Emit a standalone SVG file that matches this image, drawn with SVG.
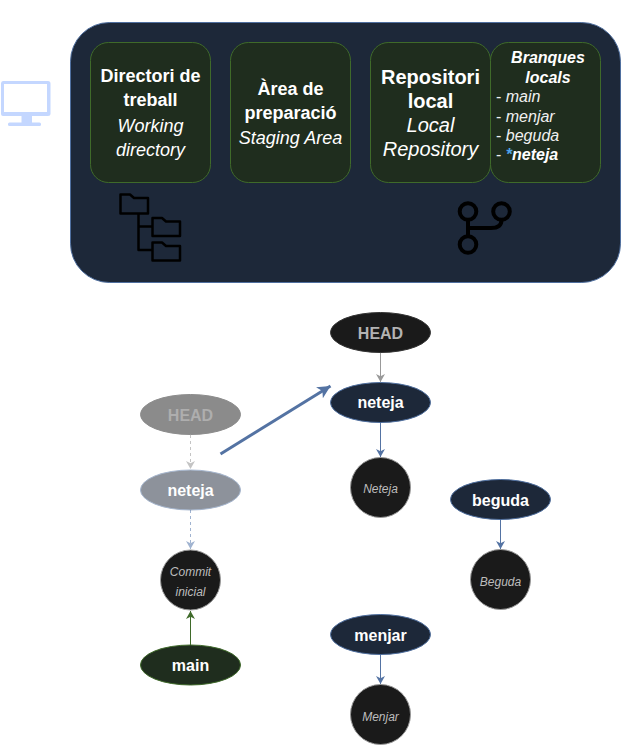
<svg xmlns="http://www.w3.org/2000/svg" width="621" height="745" viewBox="0 0 621 745">
<style>
text{font-family:"Liberation Sans",Arial,sans-serif;text-anchor:middle;fill:#fff}
.box{fill:#1f2d1e;stroke:#3f6a2a;stroke-width:1}
.t{font-size:18px}.b{font-weight:bold}.i{font-style:italic}
.big{font-size:20px}
.h{font-size:16px;font-weight:bold;font-style:italic}
.l{font-size:16px;text-anchor:start;fill:#f0f0f0}
.br{fill:#1d2839;stroke:#4f6f9f;stroke-width:1}
.blk{fill:#1a1a1a;stroke:#999;stroke-width:1}
.en{font-size:16px;font-weight:bold}
.c{font-size:12px;font-style:italic;fill:#bdbdbd}
.ic{fill:none;stroke:#000;stroke-width:2.500;stroke-linejoin:round}
.bl{stroke:#5473a3;fill:none;stroke-width:1}
</style>
<defs>
<marker id="aBlue" markerUnits="userSpaceOnUse" markerWidth="10" markerHeight="10" refX="8" refY="4.500" orient="auto"><path d="M0 0L8 4.500L0 9L2.200 4.500Z" fill="#5473a3"/></marker>
<marker id="aGrey" markerUnits="userSpaceOnUse" markerWidth="10" markerHeight="10" refX="8" refY="4.500" orient="auto"><path d="M0 0L8 4.500L0 9L2.200 4.500Z" fill="#999"/></marker>
<marker id="aGreen" markerUnits="userSpaceOnUse" markerWidth="10" markerHeight="10" refX="8" refY="4.500" orient="auto"><path d="M0 0L8 4.500L0 9L2.200 4.500Z" fill="#3f6a2a"/></marker>
<marker id="aLG" markerUnits="userSpaceOnUse" markerWidth="10" markerHeight="10" refX="8" refY="4.500" orient="auto"><path d="M0 0L8 4.500L0 9L2.200 4.500Z" fill="#c4c4c4"/></marker>
<marker id="aLB" markerUnits="userSpaceOnUse" markerWidth="10" markerHeight="10" refX="8" refY="4.500" orient="auto"><path d="M0 0L8 4.500L0 9L2.200 4.500Z" fill="#a0b3d0"/></marker>
<marker id="aBig" markerUnits="userSpaceOnUse" markerWidth="16" markerHeight="14" refX="13" refY="6.500" orient="auto"><path d="M0 0L13 6.500L0 13L3.500 6.500Z" fill="#5473a3"/></marker>
</defs>

<g id="computer-icon" fill="#c4d7ff">
<path fill-rule="evenodd" d="M3 81H48Q50.500 81 50.500 83.500V114Q50.500 116 48 116H3Q1 116 1 114V83.500Q1 81 3 81ZM4 84V112H47V84Z"/>
<path d="M21.500 116H32V123H21.500Z"/><rect x="8" y="122.500" width="33" height="3.500" rx="1.500"/>
</g>

<g id="panel"><rect x="70.500" y="22.500" width="550" height="260" rx="39" fill="#1d2839" stroke="#4f6f9f"/></g>

<g id="working">
<rect class="box" x="90.500" y="42.500" width="120" height="140" rx="18"/>
<text class="t b" x="150.500" y="82">Directori de</text><text class="t b" x="150.500" y="106">treball</text>
<text class="t i" x="150.500" y="132">Working</text><text class="t i" x="150.500" y="156">directory</text>
</g>
<g id="staging">
<rect class="box" x="230.500" y="42.500" width="120" height="140" rx="18"/>
<text class="t b" x="290.500" y="95">Àrea de</text><text class="t b" x="290.500" y="119">preparació</text>
<text class="t i" x="290.500" y="144">Staging Area</text>
</g>
<g id="repository">
<rect class="box" x="490.500" y="42.500" width="110" height="140" rx="18"/>
<path class="box" d="M388 42.500H473"/>
<rect class="box" x="370.500" y="42.500" width="120" height="140" rx="18"/>
<text class="big b" x="430.500" y="84">Repositori</text><text class="big b" x="430.500" y="108">local</text>
<text class="big i" x="430.500" y="132">Local</text><text class="big i" x="430.500" y="156">Repository</text>
</g>
<g id="branches">
<text class="h" x="548" y="63">Branques</text>
<text class="h" x="548" y="82.500">locals</text>
<text class="l" x="496" y="102">- <tspan font-style="italic">main</tspan></text>
<text class="l" x="496" y="121.500">- <tspan font-style="italic">menjar</tspan></text>
<text class="l" x="496" y="141">- <tspan font-style="italic">beguda</tspan></text>
<text class="l" x="496" y="160">- <tspan fill="#4ea3e8" font-weight="bold" font-style="italic">*</tspan><tspan fill="#fff" font-weight="bold" font-style="italic">neteja</tspan></text>
</g>

<g id="folder-icon" class="ic">
<path d="M120.500 213.500V194.500H130L134 198H148V213.500Z"/>
<path d="M152.500 236V218H162L166 221.500H180V236Z"/>
<path d="M152.500 260.500V242.500H162L166 246H180V260.500Z"/>
<path d="M138.500 213.500V250H152.500M138.500 226.500H152.500"/>
</g>
<g id="branch-icon" fill="none" stroke="#000" stroke-width="4">
<circle cx="468" cy="211.500" r="8.300"/><circle cx="501.500" cy="211.500" r="8.300"/><circle cx="468" cy="244.500" r="8.300"/>
<path d="M468 220V236M468 228H491Q501.500 228 501.500 220"/>
</g>

<g id="connectors" fill="none">
<path d="M190.500 435V469" stroke="#c4c4c4" stroke-dasharray="3 3" marker-end="url(#aLG)"/>
<path d="M190.500 510V549" stroke="#a0b3d0" stroke-dasharray="3 3" marker-end="url(#aLB)"/>
<path d="M190.500 645V611" stroke="#3f6a2a" marker-end="url(#aGreen)"/>
<path d="M220.500 454L330.500 386" stroke="#5473a3" stroke-width="3" marker-end="url(#aBig)"/>
<path d="M380.500 352V382" stroke="#999" marker-end="url(#aGrey)"/>
<path class="bl" d="M380.500 422V457" marker-end="url(#aBlue)"/>
<path class="bl" d="M500.500 519V549" marker-end="url(#aBlue)"/>
<path class="bl" d="M380.500 654V684" marker-end="url(#aBlue)"/>
</g>

<g id="head-old" opacity="0.5"><ellipse cx="190.500" cy="414.500" rx="50" ry="20" fill="#1a1a1a" stroke="#1a1a1a"/><text class="en" x="190.500" y="421" style="fill:#5f5f5f">HEAD</text></g>
<g id="neteja-old" opacity="0.5"><ellipse class="br" cx="190.500" cy="490" rx="50" ry="20"/><text class="en" x="190.500" y="496" style="fill:#fff">neteja</text></g>
<g id="commit-inicial"><circle class="blk" cx="190.500" cy="580" r="30"/><text class="c" x="190.500" y="576">Commit</text><text class="c" x="190.500" y="596">inicial</text></g>
<g id="main"><ellipse cx="190.500" cy="665" rx="50" ry="20" fill="#1f2d1e" stroke="#3f6a2a"/><text class="en" x="190.500" y="671">main</text></g>

<g id="head"><ellipse cx="380.500" cy="332.500" rx="50" ry="20" fill="#1a1a1a" stroke="#333"/><text class="en" x="380.500" y="338.500" style="fill:#b3b3b3">HEAD</text></g>
<g id="neteja"><ellipse class="br" cx="380.500" cy="402.500" rx="50" ry="20"/><text class="en" x="380.500" y="408">neteja</text></g>
<g id="commit-neteja"><circle class="blk" cx="380.500" cy="487.500" r="30"/><text class="c" x="380.500" y="493">Neteja</text></g>
<g id="beguda"><ellipse class="br" cx="500.500" cy="499.500" rx="50" ry="20"/><text class="en" x="500.500" y="506">beguda</text></g>
<g id="commit-beguda"><circle class="blk" cx="500.500" cy="579.500" r="30"/><text class="c" x="500.500" y="586">Beguda</text></g>
<g id="menjar"><ellipse class="br" cx="380.500" cy="634.500" rx="50" ry="20"/><text class="en" x="380.500" y="641">menjar</text></g>
<g id="commit-menjar"><circle class="blk" cx="380.500" cy="714.500" r="30"/><text class="c" x="380.500" y="721">Menjar</text></g>
</svg>
